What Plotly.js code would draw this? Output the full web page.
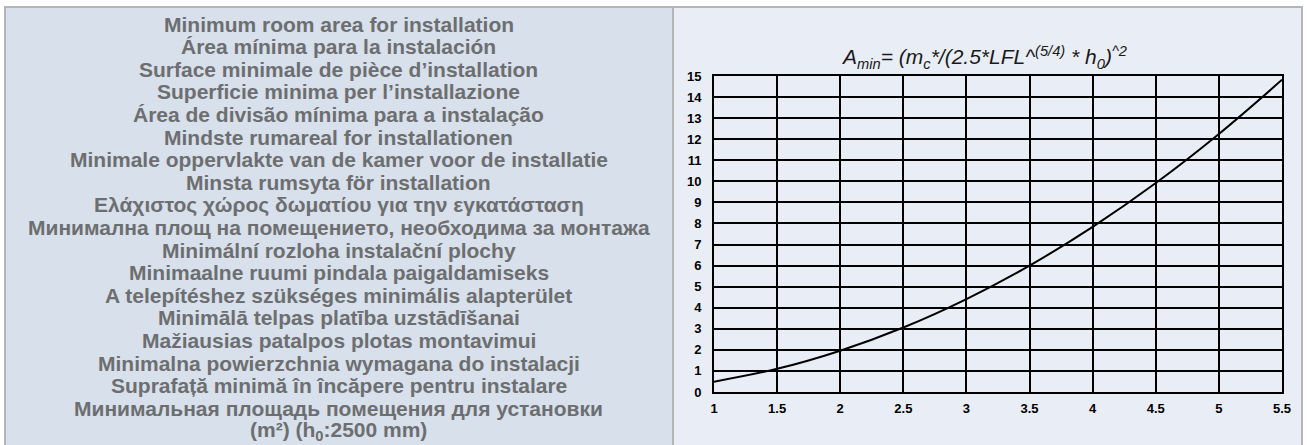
<!DOCTYPE html>
<html>
<head>
<meta charset="utf-8">
<script src="https://cdn.plot.ly/plotly-3.0.1.min.js"></script>
<style>html,body{margin:0;padding:0;background:#fff;}#chart{width:1307px;height:445px;}</style>
</head>
<body>
<div id="chart"></div>
<script>
// Data
var chargeKg = [1, 1.5, 2, 2.5, 3, 3.5, 4, 4.5, 5, 5.5];
var minAreaM2 = [0.49, 1.10, 1.96, 3.06, 4.41, 6.00, 7.84, 9.92, 12.25, 14.82];
var xTicks = [1, 1.5, 2, 2.5, 3, 3.5, 4, 4.5, 5, 5.5];
var yTicks = [0,1,2,3,4,5,6,7,8,9,10,11,12,13,14,15];
var titleLines = [
  "Minimum room area for installation",
  "Área mínima para la instalación",
  "Surface minimale de pièce d’installation",
  "Superficie minima per l’installazione",
  "Área de divisão mínima para a instalação",
  "Mindste rumareal for installationen",
  "Minimale oppervlakte van de kamer voor de installatie",
  "Minsta rumsyta för installation",
  "Ελάχιστος χώρος δωματίου για την εγκατάσταση",
  "Минимална площ на помещението, необходима за монтажа",
  "Minimální rozloha instalační plochy",
  "Minimaalne ruumi pindala paigaldamiseks",
  "A telepítéshez szükséges minimális alapterület",
  "Minimālā telpas platība uzstādīšanai",
  "Mažiausias patalpos plotas montavimui",
  "Minimalna powierzchnia wymagana do instalacji",
  "Suprafață minimă în încăpere pentru instalare",
  "Минимальная площадь помещения для установки",
  "(m²) (h<sub>0</sub>:2500 mm)"
];
var formula = "<i>A<sub>min</sub>= (m<sub>c</sub>*/(2.5*LFL^<sup>(5/4)</sup> * h<sub>0</sub>)<sup>^2</sup></i>";

// Layout geometry (pixels)
var W = 1307, H = 445;
var L = 714, R = 1282, T = 76, B = 392;
var pw = R - L, ph = B - T;
function px(x){ return (x - L) / pw; }
function py(y){ return (B - y) / ph; }

var FONT = "Liberation Sans, Arial, sans-serif";
var annotations = titleLines.map(function(t, i){
  return {
    text: t, xref: "paper", yref: "paper",
    x: px(338.5), y: py(24 + i * 22.6),
    xanchor: "center", yanchor: "middle", showarrow: false,
    font: {family: FONT, size: 21, color: "#6d6e70", weight: "bold"}
  };
});

var shapes = [
  {type: "rect", xref: "paper", yref: "paper", layer: "below",
   x0: px(5), x1: px(673), y0: py(7), y1: py(460),
   fillcolor: "#d7e0eb", line: {color: "#b5b5b5", width: 2}},
  {type: "rect", xref: "paper", yref: "paper", layer: "below",
   x0: px(673), x1: px(1302), y0: py(7), y1: py(460),
   fillcolor: "#e9eef6", line: {color: "#b5b5b5", width: 2}}
];

var trace = {
  x: chargeKg, y: minAreaM2, type: "scatter", mode: "lines",
  line: {color: "#000", width: 2, shape: "spline", smoothing: 1},
  hoverinfo: "skip", showlegend: false
};

var layout = {
  width: W, height: H,
  margin: {l: L, r: W - R, t: T, b: H - B, pad: 0},
  paper_bgcolor: "#ffffff", plot_bgcolor: "rgba(0,0,0,0)",
  showlegend: false,
  title: {text: formula, xref: "container", yref: "container",
          x: 985 / W, y: 1 - 57 / H, xanchor: "center", yanchor: "middle",
          font: {family: FONT, size: 21, color: "#1a1a1a"}},
  xaxis: {range: [1, 5.5], tickvals: xTicks, ticktext: xTicks.map(String),
          showgrid: true, gridcolor: "#000", gridwidth: 2,
          showline: true, linecolor: "#000", linewidth: 2, mirror: true,
          zeroline: false, ticks: "", ticklabelstandoff: 3,
          tickfont: {family: FONT, size: 13, color: "#000", weight: "bold"},
          fixedrange: true},
  yaxis: {range: [0, 15], tickvals: yTicks, ticktext: yTicks.map(String),
          showgrid: true, gridcolor: "#000", gridwidth: 2,
          showline: true, linecolor: "#000", linewidth: 2, mirror: true,
          zeroline: false, ticks: "", ticklabelstandoff: 8,
          tickfont: {family: FONT, size: 13, color: "#000", weight: "bold"},
          fixedrange: true},
  shapes: shapes,
  annotations: annotations
};

Plotly.newPlot("chart", [trace], layout, {displayModeBar: false, staticPlot: true});
</script>
</body>
</html>
